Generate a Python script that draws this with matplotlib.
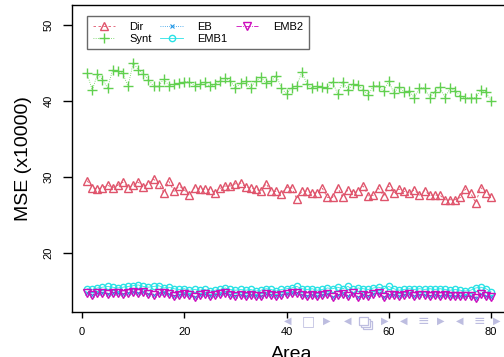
import numpy as np
import matplotlib
matplotlib.use("Agg")
import matplotlib.pyplot as plt
from matplotlib.patches import Rectangle

plt.rcParams['font.family'] = ['Liberation Sans', 'DejaVu Sans']

# Data (MSE x 10000 per area)
area = np.arange(1, 81)

dir_mse = [29.5, 28.6, 28.4, 28.6, 28.9, 28.6, 28.9, 29.3, 28.6, 28.9,
           29.3, 28.7, 29.1, 29.7, 29.1, 27.9, 29.4, 28.1, 28.8, 28.3,
           27.6, 28.6, 28.4, 28.4, 28.3, 27.9, 28.5, 28.8, 28.8, 29.1,
           29.2, 28.7, 28.5, 28.4, 28.1, 29.1, 28.1, 28.1, 27.8, 28.6,
           28.6, 27.1, 28.1, 28.1, 27.9, 27.9, 28.5, 27.3, 27.3, 28.6,
           27.3, 28.3, 27.9, 28.1, 28.8, 27.5, 27.6, 28.5, 27.5, 28.8,
           27.9, 28.4, 28.1, 27.9, 28.3, 27.6, 28.2, 27.6, 27.6, 27.6,
           27.0, 27.0, 27.0, 27.3, 28.4, 27.9, 26.6, 28.6, 27.9, 27.4]

synt_mse = [43.6, 41.4, 43.5, 42.8, 41.7, 44.1, 43.9, 43.6, 41.9, 45.0,
            44.1, 43.5, 42.8, 41.9, 41.9, 42.9, 42.0, 42.2, 42.3, 42.5,
            42.5, 42.0, 42.2, 42.5, 41.9, 42.2, 42.6, 43.0, 42.6, 41.7,
            42.3, 42.6, 41.7, 42.6, 43.1, 42.3, 42.6, 43.3, 41.7, 40.9,
            41.7, 42.0, 43.8, 42.2, 41.7, 41.9, 41.8, 41.7, 42.5, 40.9,
            42.5, 41.4, 42.2, 42.1, 41.4, 40.8, 42.0, 42.0, 41.3, 42.6,
            41.0, 41.8, 41.2, 41.3, 40.4, 41.7, 41.7, 40.4, 41.2, 41.8,
            40.4, 41.7, 41.3, 40.6, 40.4, 40.4, 40.4, 41.4, 41.2, 40.0]

emb1_mse = [15.3, 15.2, 15.4, 15.5, 15.6, 15.5, 15.4, 15.5, 15.6, 15.7,
            15.8, 15.6, 15.5, 15.6, 15.7, 15.4, 15.5, 15.3, 15.2, 15.3,
            15.1, 15.2, 15.1, 15.2, 15.0, 15.1, 15.2, 15.4, 15.2, 15.1,
            15.2, 15.1, 15.2, 15.0, 15.1, 15.3, 15.2, 15.0, 15.2, 15.3,
            15.4, 15.6, 15.3, 15.2, 15.3, 15.1, 15.2, 15.4, 15.3, 15.5,
            15.3, 15.6, 15.2, 15.4, 15.3, 15.2, 15.4, 15.5, 15.3, 15.6,
            15.3, 15.1, 15.2, 15.3, 15.2, 15.3, 15.2, 15.3, 15.2, 15.3,
            15.2, 15.1, 15.2, 15.1, 15.0, 15.1, 15.4, 15.5, 15.3, 14.9]

emb2_mse = [14.8, 14.5, 14.7, 14.8, 14.6, 14.8, 14.7, 14.6, 14.8, 14.9,
            14.7, 14.9, 14.6, 14.5, 14.7, 14.8, 14.6, 14.4, 14.5, 14.6,
            14.5, 14.2, 14.5, 14.6, 14.4, 14.5, 14.6, 14.7, 14.5, 14.4,
            14.5, 14.3, 14.5, 14.4, 14.3, 14.6, 14.5, 14.4, 14.5, 14.6,
            14.7, 14.8, 14.5, 14.4, 14.5, 14.3, 14.5, 14.6, 14.2, 14.5,
            14.6, 14.4, 14.7, 14.2, 14.5, 14.4, 14.6, 14.7, 14.2, 14.5,
            14.5, 14.4, 14.5, 14.6, 14.4, 14.5, 14.5, 14.4, 14.5, 14.4,
            14.5, 14.4, 14.3, 14.4, 14.3, 14.3, 14.1, 14.6, 14.3, 14.2]

# EB sits underneath the EMB curves and is not visible in the reference
eb_mse = list(emb2_mse)

W, H = 504, 357
fig = plt.figure(figsize=(W / 100, H / 100), dpi=100)
# axes box runs off the right edge, as in the cropped slide
ax = fig.add_axes([72 / W, 45 / H, 440 / W, 307 / H])

ax.plot(area, dir_mse, ls=(0, (3, 3)), lw=0.6, color='#DF536B', marker='^',
        ms=6, mfc='none', mew=1.0, label='Dir')
ax.plot(area, synt_mse, ls=':', lw=0.6, color='#61D04F', marker='+',
        ms=7, mew=1.0, label='Synt')
ax.plot(area, eb_mse, ls=':', lw=0.6, color='#2297E6', marker='x',
        ms=3, mew=0.8, label='EB')
ax.plot(area, emb1_mse, ls='-', lw=0.6, color='#28E2E5', marker='o',
        ms=4.5, mfc='none', mew=1.0, label='EMB1')
ax.plot(area, emb2_mse, ls='-.', lw=0.6, color='#CD0BBC', marker='v',
        ms=5.5, mfc='none', mew=1.0, label='EMB2')

ax.set_xlim(-1.96, 84.1)
ax.set_ylim(12.24, 52.6)
ax.set_xticks([0, 20, 40, 60, 80])
ax.set_yticks([20, 30, 40, 50])
ax.tick_params(axis='x', length=4.5, width=1, pad=6, labelsize=8)
ax.tick_params(axis='y', length=6.5, width=1, pad=7, labelsize=8,
               labelrotation=90)
for lab in ax.get_yticklabels():
    lab.set_va('center')
for s in ax.spines.values():
    s.set_linewidth(1)

ax.set_xlabel('Area', fontsize=14, labelpad=7)
ax.set_ylabel('MSE (x10000)', fontsize=14, labelpad=8)

leg = ax.legend(ncol=3, loc='upper left', bbox_to_anchor=(87 / W, 1 - 16 / H),
                bbox_transform=fig.transFigure, fontsize=8, frameon=True,
                fancybox=False, borderaxespad=0, borderpad=0.5,
                handlelength=2.0, handletextpad=1.3, columnspacing=0.8,
                labelspacing=0.2)
leg.get_frame().set_edgecolor('#444444')
leg.get_frame().set_linewidth(1.0)

# faint beamer navigation symbols at the bottom right
nav_col = '#bdbde0'
nav = ['◀', '□', '▶', '◀', '', '▶', '◀', '≡', '▶', '◀', '≡', '▶']
nav_x = [288, 308, 327, 348, 365, 385, 404, 423, 441, 460, 479, 497]
for sym, px in zip(nav, nav_x):
    if sym:
        fs = 10 if sym in ('□', '≡') else 7
        fig.text(px / W, 1 - 321 / H, sym, fontsize=fs, color=nav_col,
                 ha='center', va='center', family=['DejaVu Sans'])
# stacked-pages symbol drawn as overlapping boxes
for dx, dy in [(4, -4), (2, -2), (0, 0)]:
    fig.add_artist(Rectangle(((359 + dx) / W, (32 + dy) / H), 9 / W, 8 / H,
                             transform=fig.transFigure, facecolor='white',
                             edgecolor=nav_col, lw=0.9))

fig.savefig('out.png', dpi=100)
